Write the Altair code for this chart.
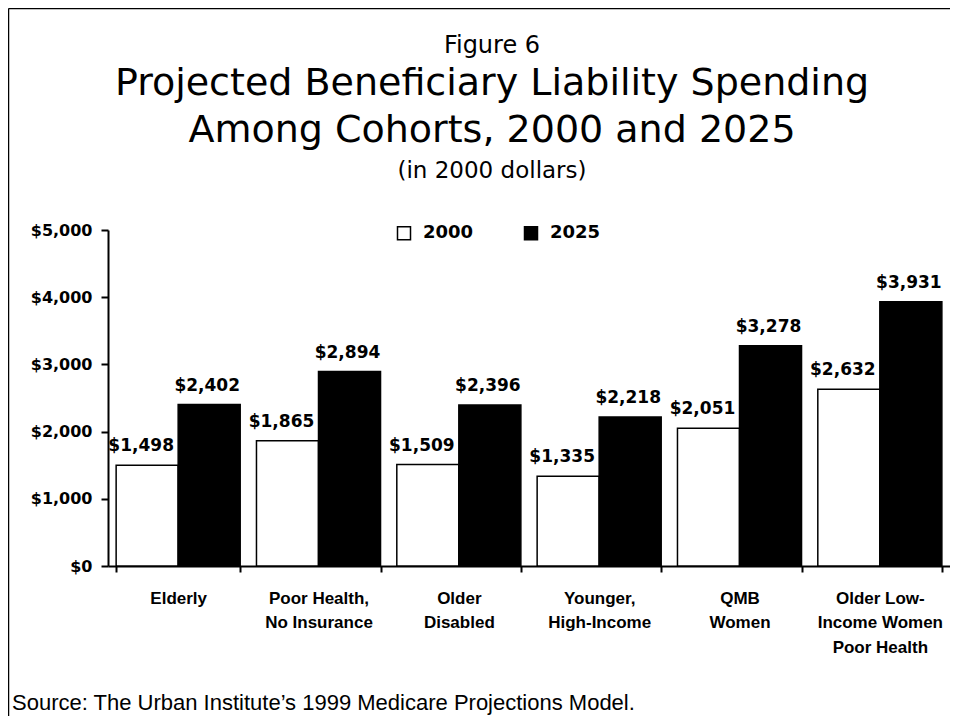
import altair as alt
import pandas as pd

categories = ["Elderly", "Poor Health,|No Insurance", "Older|Disabled",
              "Younger,|High-Income", "QMB|Women", "Older Low-|Income Women|Poor Health"]
years = ["2000", "2025"]
values_2000 = [1498, 1865, 1509, 1335, 2051, 2632]
values_2025 = [2402, 2894, 2396, 2218, 3278, 3931]
y_ticks = [0, 1000, 2000, 3000, 4000, 5000]

title_fig = "Figure 6"
title_line1 = "Projected Beneficiary Liability Spending"
title_line2 = "Among Cohorts, 2000 and 2025"
title_sub = "(in 2000 dollars)"
source_text = "Source: The Urban Institute\u2019s 1999 Medicare Projections Model."

rows = []
for c, a, b in zip(categories, values_2000, values_2025):
    rows.append({"cohort": c, "year": "2000", "value": a})
    rows.append({"cohort": c, "year": "2025", "value": b})
df = pd.DataFrame(rows)

W, H = 842, 336
BOLD = "DejaVu Sans"

x_enc = alt.X(
    "cohort:N", sort=categories, title=None,
    scale=alt.Scale(paddingInner=0.116, paddingOuter=0.058),
    axis=alt.Axis(labelExpr="isString(datum.value) ? split(datum.value, '|') : ''",
                  labelAngle=0, tickBand="extent",
                  domainColor="black", domainWidth=2, tickColor="black", tickWidth=2,
                  tickSize=6, labelFont="Liberation Sans", labelFontSize=17,
                  labelFontWeight="bold", labelColor="black", labelPadding=18,
                  labelLineHeight=24.5),
)
y_enc = alt.Y(
    "value:Q", title=None,
    scale=alt.Scale(domain=[0, 5000], nice=False),
    axis=alt.Axis(values=y_ticks, format="$,.0f", grid=False, domainColor="black",
                  domainWidth=2, tickColor="black", tickWidth=2, tickSize=7,
                  labelFont=BOLD, labelFontSize=16, labelFontWeight="bold",
                  labelColor="black", labelPadding=9),
)
xo = alt.XOffset("year:N", sort=years, scale=alt.Scale(paddingInner=0, paddingOuter=0))

base = alt.Chart(df).encode(x=x_enc, xOffset=xo, y=y_enc)

bars = base.mark_bar(stroke="black", strokeWidth=1.5).encode(
    fill=alt.Fill("year:N", scale=alt.Scale(domain=years, range=["white", "black"]),
                  legend=alt.Legend(title=None, orient="none", legendX=287, legendY=-6,
                                    direction="horizontal", symbolType="square",
                                    symbolSize=169, symbolStrokeColor="black",
                                    symbolStrokeWidth=1.5, labelFont=BOLD,
                                    labelFontWeight="bold", labelFontSize=18,
                                    labelColor="black", columnPadding=47,
                                    labelOffset=10, padding=0))
)

lab_2000 = base.mark_text(font=BOLD, fontWeight="bold", fontSize=17, baseline="alphabetic",
                          dy=-14, dx=-6, color="black").encode(
    text=alt.Text("value:Q", format="$,.0f")).transform_filter(alt.datum.year == "2000")
lab_2025 = base.mark_text(font=BOLD, fontWeight="bold", fontSize=17, baseline="alphabetic",
                          dy=-14, dx=-2, color="black").encode(
    text=alt.Text("value:Q", format="$,.0f")).transform_filter(alt.datum.year == "2025")


def txt(s, x, y, size, align="center", font="DejaVu Sans"):
    return alt.Chart(pd.DataFrame({"t": [s]})).mark_text(
        font=font, fontSize=size, align=align, baseline="alphabetic", color="black"
    ).encode(text="t:N", x=alt.value(x), y=alt.value(y))


t0 = txt(title_fig, 384, -177, 24)
t1 = txt(title_line1, 384, -135, 38)
t2 = txt(title_line2, 384, -88, 38)
t3 = txt(title_sub, 384, -52, 23)
src = txt(source_text, -96, 480, 22, align="left", font="Liberation Sans")

dummy = pd.DataFrame({"a": [0]})
border_left = alt.Chart(dummy).mark_rule(color="black", strokeWidth=1.5).encode(
    x=alt.value(-99.5), y=alt.value(-221.5), y2=alt.value(H + 160))
border_top = alt.Chart(dummy).mark_rule(color="black", strokeWidth=1.5).encode(
    x=alt.value(-99.5), x2=alt.value(W + 20), y=alt.value(-221.5))

chart = alt.layer(bars, lab_2000, lab_2025, t0, t1, t2, t3, src, border_left, border_top).properties(
    width=W, height=H,
    autosize=alt.AutoSizeParams(type="none"),
    padding={"left": 100, "top": 222, "right": 0, "bottom": 150},
    background="white",
).configure_view(stroke=None)

chart.save("out.html", embed_options={"renderer": "svg", "actions": False})
